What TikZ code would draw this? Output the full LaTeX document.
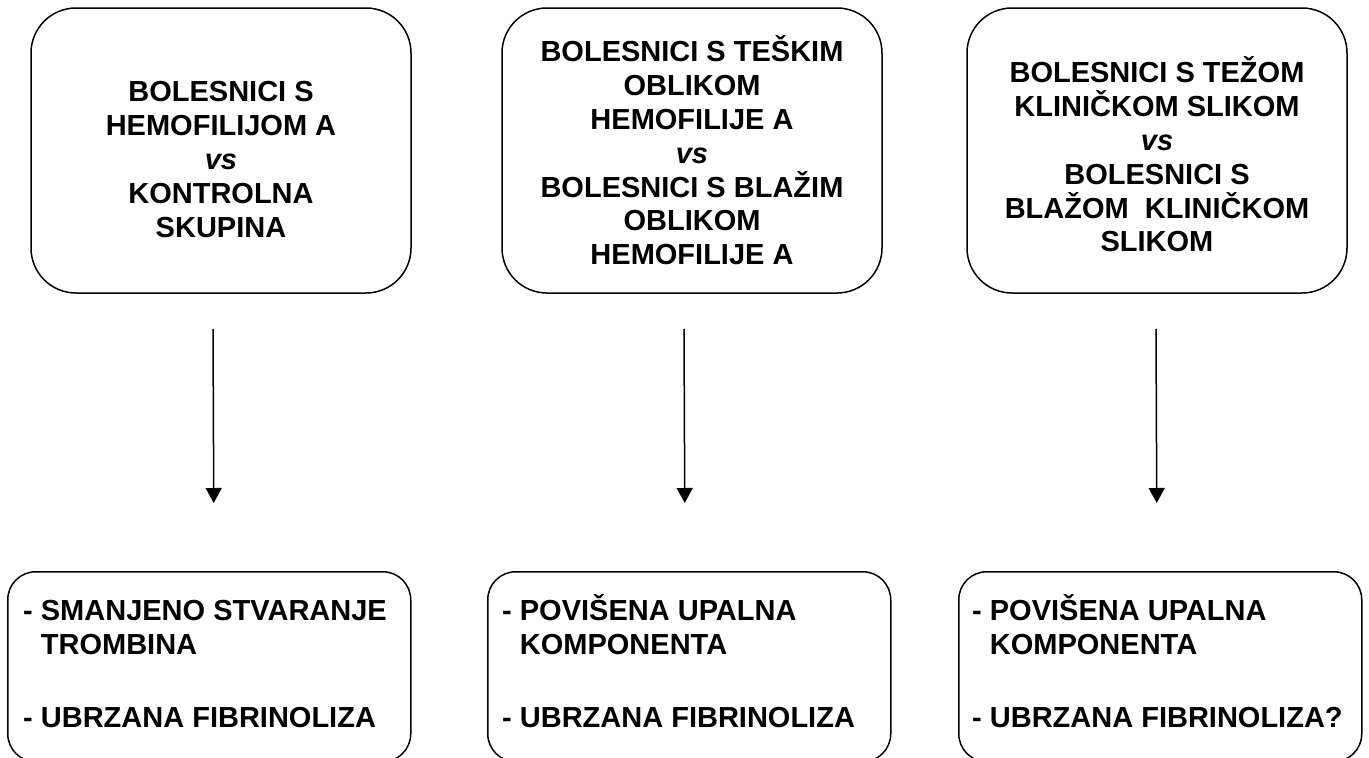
\documentclass[tikz,border=0pt]{standalone}
\usepackage{fontspec}
\setmainfont{Liberation Sans}
\usepackage{tikz}
\usetikzlibrary{arrows.meta,positioning}
\tikzset{
  grpbox/.style={draw, line width=1.5pt, rounded corners=45pt, minimum width=380pt, minimum height=285pt},
  resbox/.style={draw, line width=1.5pt, rounded corners=28pt, minimum width=403pt, minimum height=190pt, anchor=north west},
  grptext/.style={align=center, inner sep=0pt, font=\bfseries\fontsize{29}{33.8}\selectfont},
  restext/.style={align=left, inner sep=0pt, anchor=base west, font=\bfseries\fontsize{29}{34}\selectfont},
  resarr/.style={-{Triangle[length=15pt,width=16pt]}, line width=1.5pt}
}

\begin{document}
\begin{tikzpicture}[x=1pt, y=-1pt]
  \useasboundingbox (0,0) rectangle (1369,758);
  \node[grpbox] (grpA) at (221,150.5) {};
  \node[grpbox] (grpB) at (692,150.5) {};
  \node[grpbox] (grpC) at (1157,150.5) {};
  \node[grptext] (grpAtext) at ([yshift=-9pt]grpA.center) {BOLESNICI S\\HEMOFILIJOM A\\\textit{vs}\\KONTROLNA\\SKUPINA};
  \node[grptext] (grpBtext) at (grpB.center) {BOLESNICI S TEŠKIM\\OBLIKOM\\HEMOFILIJE A\\\textit{vs}\\BOLESNICI S BLAŽIM\\OBLIKOM\\HEMOFILIJE A};
  \node[grptext] (grpCtext) at ([yshift=-4pt]grpC.center) {BOLESNICI S TEŽOM\\KLINIČKOM SLIKOM\\\textit{vs}\\BOLESNICI S\\BLAŽOM\ \ KLINIČKOM\\SLIKOM};
  \node[resbox] (resA) at (7,571) {};
  \node[resbox] (resB) at (487,571) {};
  \node[resbox] (resC) at (958,571) {};
  \node[restext] (resAtext) at ([xshift=16pt,yshift=-156pt]resA.north west) {- SMANJENO STVARANJE\\\phantom{- }TROMBINA\\[39pt]- UBRZANA FIBRINOLIZA};
  \node[restext] (resBtext) at ([xshift=15pt,yshift=-156pt]resB.north west) {- POVIŠENA UPALNA\\\phantom{- }KOMPONENTA\\[39pt]- UBRZANA FIBRINOLIZA};
  \node[restext] (resCtext) at ([xshift=14pt,yshift=-156pt]resC.north west) {- POVIŠENA UPALNA\\\phantom{- }KOMPONENTA\\[39pt]- UBRZANA FIBRINOLIZA?};
  \draw[resarr] ([xshift=-8pt,yshift=-35pt]grpA.south) -- ([xshift=4.5pt,yshift=68pt]resA.north);
  \draw[resarr] ([xshift=-8pt,yshift=-35pt]grpB.south) -- ([xshift=-4.5pt,yshift=68pt]resB.north);
  \draw[resarr] ([xshift=-1pt,yshift=-35pt]grpC.south) -- ([xshift=-3.5pt,yshift=68pt]resC.north);
\end{tikzpicture}
\end{document}
